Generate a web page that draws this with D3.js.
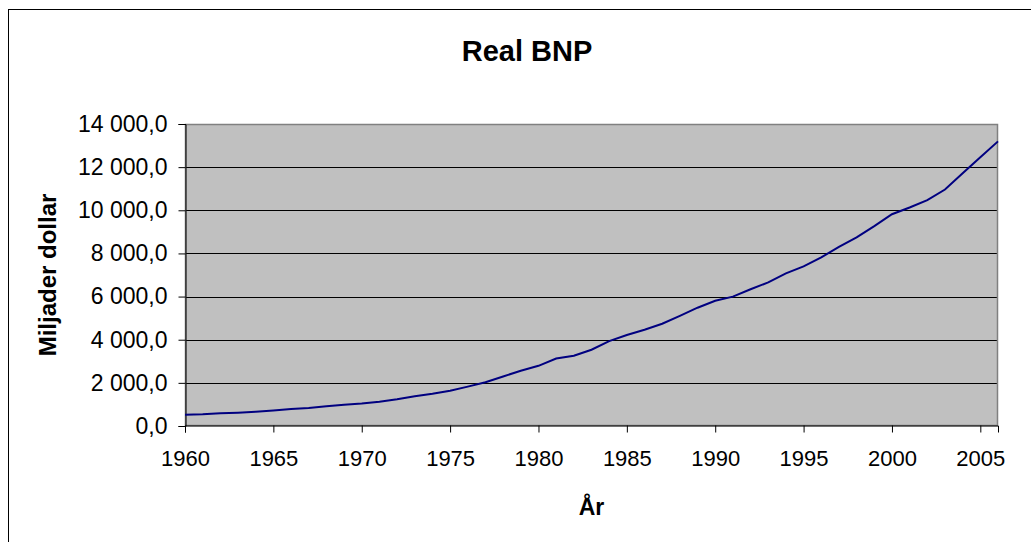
<!DOCTYPE html>
<html>
<head>
<meta charset="utf-8">
<script src="https://cdn.jsdelivr.net/npm/d3@7"></script>
<style>
  body { margin: 0; background: #fff; }
  text { font-family: "Liberation Sans", Arial, sans-serif; fill: #000; }
</style>
</head>
<body>
<div class="chart"></div>
<script>
// Data
var years = [1960, 1961, 1962, 1963, 1964, 1965, 1966, 1967, 1968, 1969,
  1970, 1971, 1972, 1973, 1974, 1975, 1976, 1977, 1978, 1979,
  1980, 1981, 1982, 1983, 1984, 1985, 1986, 1987, 1988, 1989,
  1990, 1991, 1992, 1993, 1994, 1995, 1996, 1997, 1998, 1999,
  2000, 2001, 2002, 2003, 2004, 2005, 2006];
var gdp = [526.4, 544.7, 585.6, 617.8, 663.6, 719.1, 787.8, 832.6, 910.0, 984.6,
  1038.5, 1127.1, 1238.3, 1382.7, 1500.0, 1638.3, 1825.3, 2030.9, 2294.7, 2563.3,
  2789.5, 3128.4, 3255.0, 3536.7, 3933.2, 4220.3, 4462.8, 4739.5, 5103.8, 5484.4,
  5803.1, 5995.9, 6337.7, 6657.4, 7072.2, 7397.7, 7816.9, 8304.3, 8747.0, 9268.4,
  9817.0, 10128.0, 10469.6, 10960.8, 11712.5, 12455.8, 13194.7];
var yTicks = [0, 2000, 4000, 6000, 8000, 10000, 12000, 14000];
var xTicks = [1960, 1965, 1970, 1975, 1980, 1985, 1990, 1995, 2000, 2005];

var titleText = "Real BNP";
var xTitle = "År";
var yTitle = "Miljader dollar";

var svgWidth = 1031;
var svgHeight = 542;

var plot = { left: 185, right: 998, top: 124, bottom: 426 };

var svg = d3.select(".chart")
  .append("svg")
  .attr("width", svgWidth)
  .attr("height", svgHeight);

// Outer chart frame (runs past the right and bottom edges)
svg.append("rect")
  .attr("x", 8.5)
  .attr("y", 9.5)
  .attr("width", 1040)
  .attr("height", 560)
  .attr("fill", "#fff")
  .attr("stroke", "#000")
  .attr("stroke-width", 1);

var x = d3.scaleLinear()
  .domain([1960, 2006])
  .range([plot.left, plot.right]);

var y = d3.scaleLinear()
  .domain([0, 14000])
  .range([plot.bottom, plot.top]);

var locale = d3.formatLocale({ decimal: ",", thousands: "\u00a0", grouping: [3], currency: ["", ""] });
var fmt = locale.format(",.1f");

// Plot area background
svg.append("rect")
  .attr("x", plot.left)
  .attr("y", plot.top)
  .attr("width", plot.right - plot.left)
  .attr("height", plot.bottom - plot.top)
  .attr("fill", "#c0c0c0");

// Gridlines
svg.append("g")
  .selectAll("line")
  .data(yTicks.filter(d => d > 0 && d < 14000))
  .enter()
  .append("line")
  .attr("x1", plot.left)
  .attr("x2", plot.right)
  .attr("y1", d => Math.round(y(d)) + 0.5)
  .attr("y2", d => Math.round(y(d)) + 0.5)
  .attr("stroke", "#000")
  .attr("stroke-width", 1);

// Plot border
svg.append("rect")
  .attr("x", plot.left + 0.5)
  .attr("y", plot.top + 0.5)
  .attr("width", plot.right - plot.left - 1)
  .attr("height", plot.bottom - plot.top - 1)
  .attr("fill", "none")
  .attr("stroke", "#808080")
  .attr("stroke-width", 1.5);

// Y axis
var leftAxis = d3.axisLeft(y)
  .tickValues(yTicks)
  .tickSize(7)
  .tickPadding(11)
  .tickFormat(fmt);

var yAxis = svg.append("g")
  .attr("transform", `translate(${plot.left + 0.5}, 0)`)
  .call(leftAxis);
yAxis.select(".domain").attr("stroke", "#000");
yAxis.selectAll(".tick line").attr("stroke", "#000");
yAxis.selectAll(".tick text")
  .style("font-size", "23px")
  .attr("fill", "#000");

// X axis
var bottomAxis = d3.axisBottom(x)
  .tickValues(xTicks)
  .tickSize(7)
  .tickPadding(18)
  .tickFormat(d3.format("d"));

var xAxis = svg.append("g")
  .attr("transform", `translate(0, ${plot.bottom - 0.5})`)
  .call(bottomAxis);
xAxis.select(".domain").attr("stroke", "#000");
xAxis.selectAll(".tick line").attr("stroke", "#000");
xAxis.selectAll(".tick text")
  .style("font-size", "22px")
  .attr("fill", "#000");

// Line
var line = d3.line()
  .x((d, i) => x(years[i]))
  .y(d => y(d));

svg.append("path")
  .datum(gdp)
  .attr("d", line)
  .attr("fill", "none")
  .attr("stroke", "#000080")
  .attr("stroke-width", 2);

// Title
svg.append("text")
  .attr("x", 527)
  .attr("y", 61)
  .attr("text-anchor", "middle")
  .style("font-size", "29px")
  .style("font-weight", "bold")
  .text(titleText);

// X axis title
svg.append("text")
  .attr("x", (plot.left + plot.right) / 2)
  .attr("y", 515)
  .attr("text-anchor", "middle")
  .style("font-size", "23px")
  .style("font-weight", "bold")
  .text(xTitle);

// Y axis title
svg.append("text")
  .attr("transform", `translate(56, ${(plot.top + plot.bottom) / 2}) rotate(-90)`)
  .attr("text-anchor", "middle")
  .style("font-size", "24px")
  .style("font-weight", "bold")
  .text(yTitle);
</script>
</body>
</html>
